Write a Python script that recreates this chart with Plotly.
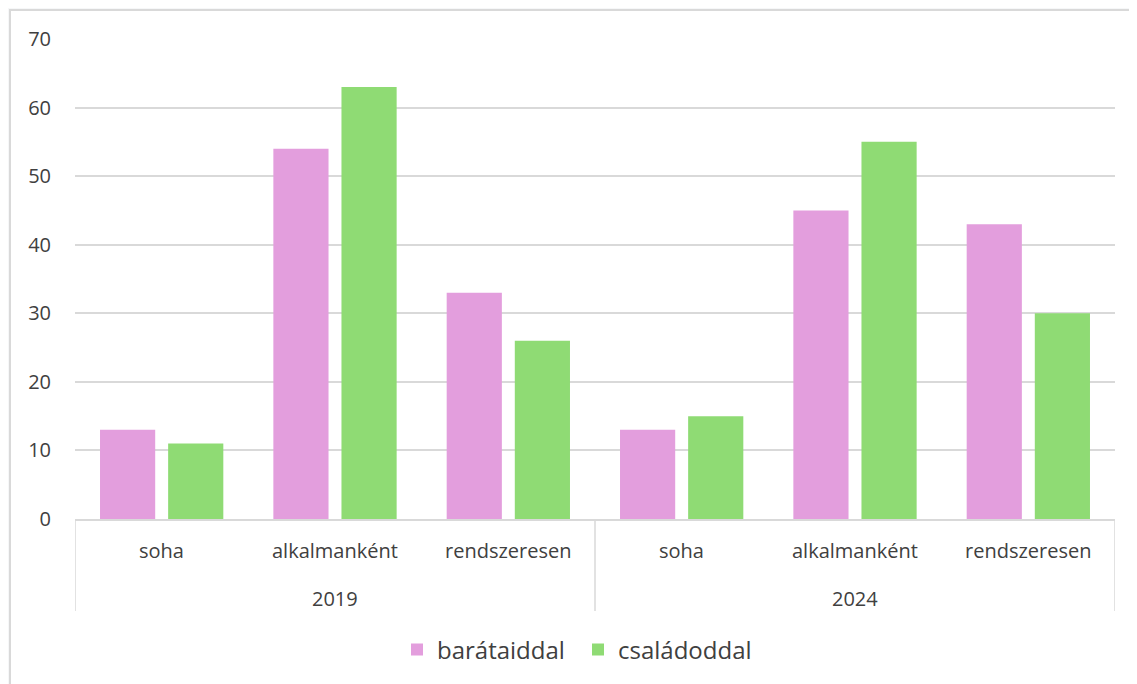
import plotly.graph_objects as go

years = ["2019", "2019", "2019", "2024", "2024", "2024"]
answers = ["soha", "alkalmanként", "rendszeresen", "soha", "alkalmanként", "rendszeresen"]
baratok = [13, 54, 33, 13, 45, 43]
csalad = [11, 63, 26, 15, 55, 30]
series_names = ["barátaiddal", "családoddal"]
colors = ["#E39EDD", "#8FDB74"]
year_labels = ["2019", "2024"]

cats = [f"{y} {a}" for y, a in zip(years, answers)]

W, H = 1129, 676
L, T, PW, PH = 67, 31, 1040, 480

fig = go.Figure()
for name, vals, col in zip(series_names, [baratok, csalad], colors):
    fig.add_trace(go.Bar(x=cats, y=vals, name=name, marker_color=col,
                         marker_line_width=0))

font = "Open Sans, Liberation Sans, sans-serif"
txt = "#404040"
fig.update_layout(
    width=W, height=H,
    margin=dict(l=L, r=W - L - PW, t=T, b=H - T - PH, pad=0),
    paper_bgcolor="#F6F7F8",
    plot_bgcolor="white",
    barmode="group", bargap=0.214, bargroupgap=0.19,
    font=dict(family=font, color=txt, size=20),
    legend=dict(orientation="h", x=(397 - 75) / PW, xanchor="left", y=-131 / PH,
                yanchor="middle", font=dict(size=24, color=txt),
                bgcolor="rgba(0,0,0,0)", tracegroupgap=0, entrywidth=136),
    showlegend=True,
)
fig.update_yaxes(range=[0, 70], dtick=10, showgrid=True, gridcolor="#D9D9D9", gridwidth=1.5,
                 zeroline=False, ticks="", ticklabelstandoff=23, automargin=False,
                 tickfont=dict(size=20, color=txt), showline=False)
fig.update_xaxes(type="category", showline=True, linecolor="#D9D9D9", linewidth=1.5,
                 showticklabels=False, ticks="", showgrid=False, automargin=False,
                 range=[-0.5, len(cats) - 0.5])

# inner category labels
for c, a in zip(cats, answers):
    fig.add_annotation(x=c, xref="x", y=-31 / PH, yref="paper", text=a, showarrow=False,
                       font=dict(size=20, color=txt), yanchor="middle")
# outer (year) labels, centred on each group's middle category
for i, yl in enumerate(year_labels):
    mid = cats[i * 3 + 1]
    fig.add_annotation(x=mid, xref="x", y=-79 / PH, yref="paper", text=yl, showarrow=False,
                       font=dict(size=20, color=txt), yanchor="middle")
# group dividers
for xv in [-0.5, 2.5, 5.5]:
    fig.add_shape(type="line", xref="x", yref="paper", x0=xv, x1=xv, y0=0, y1=-92 / PH,
                  line=dict(color="#D9D9D9", width=1.5))
# white chart frame
fig.add_shape(type="rect", xref="paper", yref="paper",
              x0=(2 - L) / PW, x1=(W + 10 - L) / PW, y0=-(H + 10 - T - PH) / PH,
              y1=1 + (T - 2) / PH,
              line=dict(color="#D9D9D9", width=2), fillcolor="white", layer="below")
fig.write_html("out.html")
